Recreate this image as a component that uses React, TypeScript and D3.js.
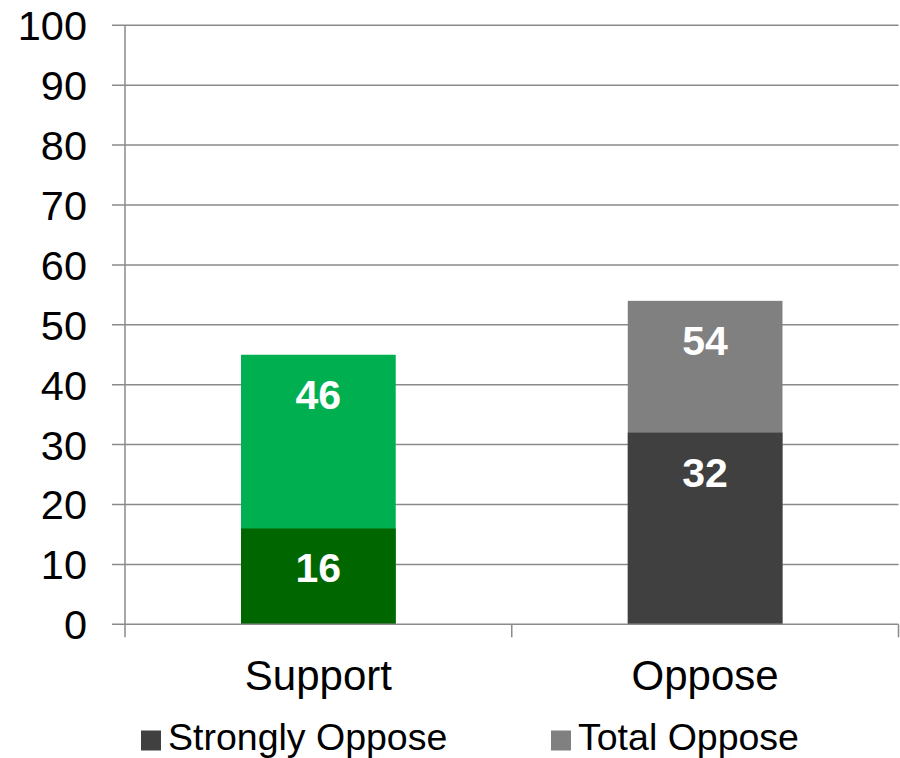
import React from "react";
import * as d3 from "d3";

const categories = ["Support", "Oppose"];
const strongValues = [16, 32];
const totalValues = [45, 54];
const strongLabels = ["16", "32"];
const totalLabels = ["46", "54"];
const strongColors = ["#006600", "#404040"];
const totalColors = ["#00B050", "#808080"];
const yTicks = [0, 10, 20, 30, 40, 50, 60, 70, 80, 90, 100];
const legendNames = ["Strongly Oppose", "Total Oppose"];
const legendColors = ["#404040", "#808080"];

const W = 900;
const H = 758;
const FONT = "'Liberation Sans', Arial, sans-serif";
const AXIS = "#8a8a8a";

export default function App() {
  const left = 125;
  const right = 898.5;
  const y = d3.scaleLinear().domain([0, 100]).range([624.3, 25.3]);
  const x = d3.scaleBand<string>().domain(categories).range([left, right]).padding(0);
  const bw = x.bandwidth() * 0.4;
  const y0 = y(0);
  const bandEdges = [left, ...categories.map((c) => (x(c) as number) + x.bandwidth())];
  const legendX = [141, 551];

  return (
    <svg
      width={W}
      height={H}
      style={{ position: "absolute", left: 0, top: 0, background: "#fff" }}
      fontFamily={FONT}
    >
      {yTicks.filter((t) => t > 0).map((t) => (
        <line key={"g" + t} x1={112} x2={right} y1={y(t)} y2={y(t)} stroke={AXIS} strokeWidth={1.5} />
      ))}
      {yTicks.map((t) => (
        <text key={"t" + t} x={87} y={y(t)} dy="0.36em" textAnchor="end" fontSize={41.5} fill="#000">
          {t}
        </text>
      ))}
      {categories.map((c, i) => {
        const cx = (x(c) as number) + x.bandwidth() / 2;
        const bx = cx - bw / 2;
        return (
          <g key={c}>
            <rect x={bx} y={y(totalValues[i])} width={bw} height={y0 - y(totalValues[i])} fill={totalColors[i]} />
            <rect x={bx} y={y(strongValues[i])} width={bw} height={y0 - y(strongValues[i])} fill={strongColors[i]} />
            <text x={cx} y={y(totalValues[i]) + 54} textAnchor="middle" fontSize={41} fontWeight="bold" fill="#fff">
              {totalLabels[i]}
            </text>
            <text x={cx} y={y(strongValues[i]) + 54} textAnchor="middle" fontSize={41} fontWeight="bold" fill="#fff">
              {strongLabels[i]}
            </text>
            <text x={cx} y={690} textAnchor="middle" fontSize={42} fill="#000">
              {c}
            </text>
          </g>
        );
      })}
      <line x1={left} x2={left} y1={y(100)} y2={y0} stroke={AXIS} strokeWidth={1.5} />
      <line x1={112} x2={right} y1={y0} y2={y0} stroke={AXIS} strokeWidth={1.5} />
      {bandEdges.map((bx, i) => (
        <line key={"bt" + i} x1={bx} x2={bx} y1={y0} y2={y0 + 13} stroke={AXIS} strokeWidth={1.5} />
      ))}
      {legendNames.map((n, i) => (
        <g key={n}>
          <rect x={legendX[i]} y={730.5} width={20} height={20} fill={legendColors[i]} />
          <text x={legendX[i] + 27} y={750} fontSize={37.5} fill="#000">
            {n}
          </text>
        </g>
      ))}
    </svg>
  );
}
